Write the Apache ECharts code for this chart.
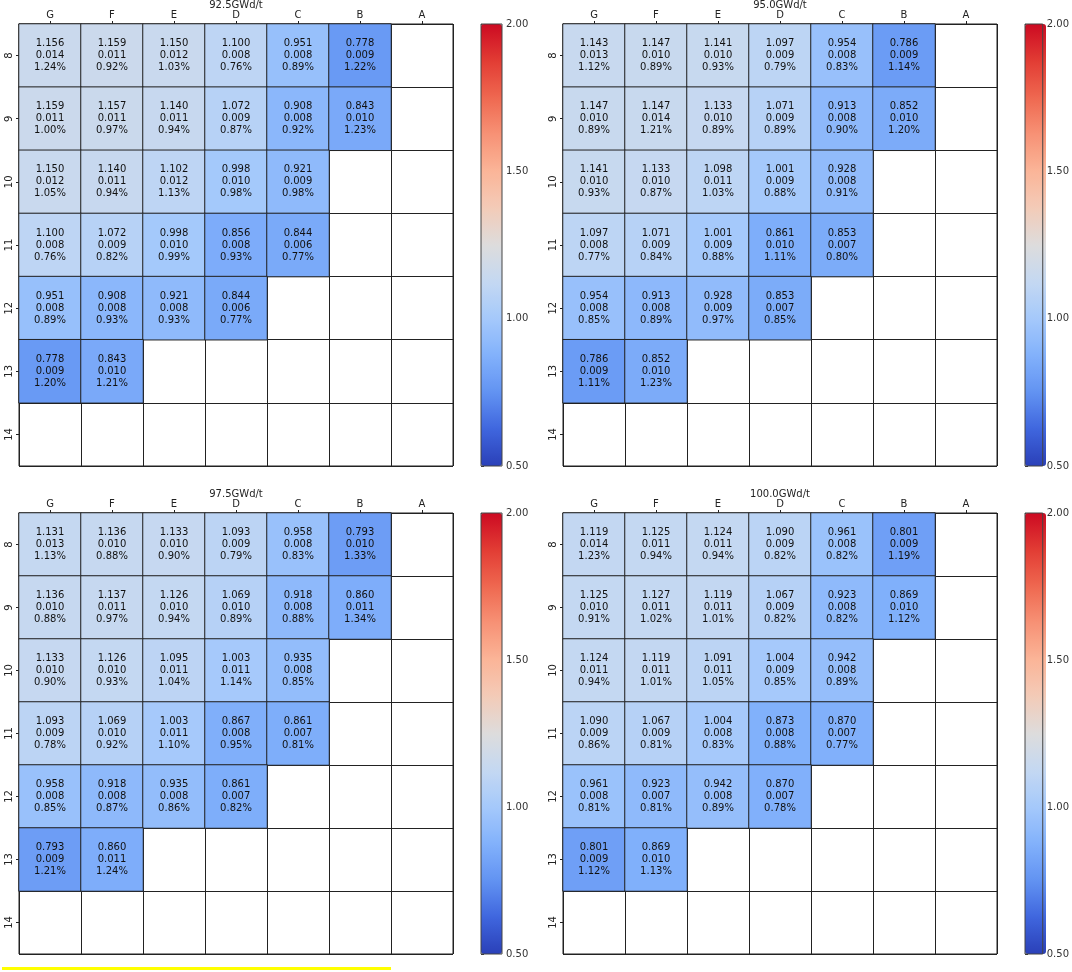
<!DOCTYPE html>
<html>
<head>
<meta charset="utf-8">
<title>Assembly power distribution</title>
<script src="https://cdn.jsdelivr.net/npm/echarts@6/dist/echarts.min.js"></script>
<style>
  html, body { margin: 0; padding: 0; background: #fff; }
  #chart { width: 1072px; height: 972px; }
</style>
</head>
<body>
<div id="chart"></div>
<script>
// column / row labels of the quarter core map
const columns = ['G', 'F', 'E', 'D', 'C', 'B', 'A'];
const rows = ['8', '9', '10', '11', '12', '13', '14'];
// how many filled cells each row has (from column G)
const rowLengths = [6, 6, 5, 5, 4, 2, 0];
const burnups = ['92.5GWd/t', '95.0GWd/t', '97.5GWd/t', '100.0GWd/t'];
const colorbarTicks = [0.5, 1.0, 1.5, 2.0];

// 92.5 GWd/t
const power925 = [1.156, 1.159, 1.150, 1.100, 0.951, 0.778,
                  1.159, 1.157, 1.140, 1.072, 0.908, 0.843,
                  1.150, 1.140, 1.102, 0.998, 0.921,
                  1.100, 1.072, 0.998, 0.856, 0.844,
                  0.951, 0.908, 0.921, 0.844,
                  0.778, 0.843];
const std925 = [0.014, 0.011, 0.012, 0.008, 0.008, 0.009,
                0.011, 0.011, 0.011, 0.009, 0.008, 0.010,
                0.012, 0.011, 0.012, 0.010, 0.009,
                0.008, 0.009, 0.010, 0.008, 0.006,
                0.008, 0.008, 0.008, 0.006,
                0.009, 0.010];
const rel925 = [1.24, 0.92, 1.03, 0.76, 0.89, 1.22,
                1.00, 0.97, 0.94, 0.87, 0.92, 1.23,
                1.05, 0.94, 1.13, 0.98, 0.98,
                0.76, 0.82, 0.99, 0.93, 0.77,
                0.89, 0.93, 0.93, 0.77,
                1.20, 1.21];

// 95.0 GWd/t
const power950 = [1.143, 1.147, 1.141, 1.097, 0.954, 0.786,
                  1.147, 1.147, 1.133, 1.071, 0.913, 0.852,
                  1.141, 1.133, 1.098, 1.001, 0.928,
                  1.097, 1.071, 1.001, 0.861, 0.853,
                  0.954, 0.913, 0.928, 0.853,
                  0.786, 0.852];
const std950 = [0.013, 0.010, 0.010, 0.009, 0.008, 0.009,
                0.010, 0.014, 0.010, 0.009, 0.008, 0.010,
                0.010, 0.010, 0.011, 0.009, 0.008,
                0.008, 0.009, 0.009, 0.010, 0.007,
                0.008, 0.008, 0.009, 0.007,
                0.009, 0.010];
const rel950 = [1.12, 0.89, 0.93, 0.79, 0.83, 1.14,
                0.89, 1.21, 0.89, 0.89, 0.90, 1.20,
                0.93, 0.87, 1.03, 0.88, 0.91,
                0.77, 0.84, 0.88, 1.11, 0.80,
                0.85, 0.89, 0.97, 0.85,
                1.11, 1.23];

// 97.5 GWd/t
const power975 = [1.131, 1.136, 1.133, 1.093, 0.958, 0.793,
                  1.136, 1.137, 1.126, 1.069, 0.918, 0.860,
                  1.133, 1.126, 1.095, 1.003, 0.935,
                  1.093, 1.069, 1.003, 0.867, 0.861,
                  0.958, 0.918, 0.935, 0.861,
                  0.793, 0.860];
const std975 = [0.013, 0.010, 0.010, 0.009, 0.008, 0.010,
                0.010, 0.011, 0.010, 0.010, 0.008, 0.011,
                0.010, 0.010, 0.011, 0.011, 0.008,
                0.009, 0.010, 0.011, 0.008, 0.007,
                0.008, 0.008, 0.008, 0.007,
                0.009, 0.011];
const rel975 = [1.13, 0.88, 0.90, 0.79, 0.83, 1.33,
                0.88, 0.97, 0.94, 0.89, 0.88, 1.34,
                0.90, 0.93, 1.04, 1.14, 0.85,
                0.78, 0.92, 1.10, 0.95, 0.81,
                0.85, 0.87, 0.86, 0.82,
                1.21, 1.24];

// 100.0 GWd/t
const power1000 = [1.119, 1.125, 1.124, 1.090, 0.961, 0.801,
                   1.125, 1.127, 1.119, 1.067, 0.923, 0.869,
                   1.124, 1.119, 1.091, 1.004, 0.942,
                   1.090, 1.067, 1.004, 0.873, 0.870,
                   0.961, 0.923, 0.942, 0.870,
                   0.801, 0.869];
const std1000 = [0.014, 0.011, 0.011, 0.009, 0.008, 0.009,
                 0.010, 0.011, 0.011, 0.009, 0.008, 0.010,
                 0.011, 0.011, 0.011, 0.009, 0.008,
                 0.009, 0.009, 0.008, 0.008, 0.007,
                 0.008, 0.007, 0.008, 0.007,
                 0.009, 0.010];
const rel1000 = [1.23, 0.94, 0.94, 0.82, 0.82, 1.19,
                 0.91, 1.02, 1.01, 0.82, 0.82, 1.12,
                 0.94, 1.01, 1.05, 0.85, 0.89,
                 0.86, 0.81, 0.83, 0.88, 0.77,
                 0.81, 0.81, 0.89, 0.78,
                 1.12, 1.13];

const panels = [
    { power: power925, std: std925, rel: rel925 },
    { power: power950, std: std950, rel: rel950 },
    { power: power975, std: std975, rel: rel975 },
    { power: power1000, std: std1000, rel: rel1000 }
];

// coolwarm-like colour ramp, 0.5 .. 2.0
const COLOR_RAMP = ['#2a40b8', '#3f66de', '#6293f2', '#82b1fb', '#a5c9fb', '#c4d8f2',
    '#dddcdc', '#f3cbb8', '#fbb598', '#f79276', '#ef6850', '#e23c34', '#cc0a22'];

const FONT = 'DejaVu Sans';
const INK = '#222';

// panel boxes: [left, top, width, height], colorbar left
const boxes = [
    { left: 19, top: 24, width: 434, height: 442, cbLeft: 481 },
    { left: 563, top: 24, width: 434, height: 442, cbLeft: 1025 },
    { left: 19, top: 513, width: 434, height: 441, cbLeft: 481 },
    { left: 563, top: 513, width: 434, height: 441, cbLeft: 1025 }
];
const CB_WIDTH = 21;

function buildCells(panel) {
    const cells = [];
    let k = 0;
    rowLengths.forEach((len, r) => {
        for (let c = 0; c < len; c++) {
            cells.push([c, r, panel.power[k], panel.std[k], panel.rel[k]]);
            k++;
        }
    });
    return cells;
}

const grid = [], xAxis = [], yAxis = [], series = [], visualMap = [], title = [];

boxes.forEach((b, i) => {
    // heatmap grid
    grid.push({ left: b.left, top: b.top, width: b.width, height: b.height,
        show: true, borderColor: INK, borderWidth: 1, backgroundColor: '#fff' });
    xAxis.push({
        type: 'category', gridIndex: i, data: columns, position: 'top',
        axisLine: { show: true, lineStyle: { color: INK } },
        axisTick: { show: true, alignWithLabel: true, length: 3, lineStyle: { color: INK } },
        axisLabel: { fontSize: 10, color: INK, fontFamily: FONT, margin: 4 },
        splitLine: { show: true, lineStyle: { color: INK, width: 1 } }
    });
    yAxis.push({
        type: 'category', gridIndex: i, data: rows, inverse: true,
        axisLine: { show: true, lineStyle: { color: INK } },
        axisTick: { show: true, alignWithLabel: true, length: 3, lineStyle: { color: INK } },
        axisLabel: { fontSize: 10, color: INK, fontFamily: FONT, rotate: 90, margin: 5 },
        splitLine: { show: true, lineStyle: { color: INK, width: 1 } }
    });
    series.push({
        type: 'heatmap', xAxisIndex: i, yAxisIndex: i,
        data: buildCells(panels[i]),
        itemStyle: { borderColor: INK, borderWidth: 1 },
        label: {
            show: true, fontSize: 10, lineHeight: 12, color: '#111', fontFamily: FONT,
            formatter: p => p.value[2].toFixed(3) + '\n' + p.value[3].toFixed(3) + '\n' + p.value[4].toFixed(2) + '%'
        },
        emphasis: { disabled: true }
    });
    visualMap.push({
        type: 'continuous', min: 0.5, max: 2, seriesIndex: i, dimension: 2,
        orient: 'vertical', left: b.cbLeft, top: b.top,
        itemWidth: CB_WIDTH, itemHeight: b.height, padding: 0,
        calculable: false, hoverLink: false,
        inRange: { color: COLOR_RAMP }
    });
    title.push({
        text: burnups[i], left: b.left + b.width / 2, top: b.top - 24, textAlign: 'center',
        padding: 0,
        textStyle: { fontSize: 10, fontWeight: 'normal', color: INK, fontFamily: FONT }
    });
});

// colorbar axes
boxes.forEach((b, i) => {
    const g = grid.length;
    grid.push({ left: b.cbLeft, top: b.top, width: CB_WIDTH, height: b.height,
        show: true, borderColor: '#444', borderWidth: 1, backgroundColor: 'transparent', z: 10 });
    xAxis.push({ type: 'value', gridIndex: g, show: false, min: 0, max: 1 });
    yAxis.push({
        type: 'value', gridIndex: g, position: 'right',
        min: colorbarTicks[0], max: colorbarTicks[colorbarTicks.length - 1], interval: 0.5,
        axisLine: { show: false },
        axisTick: { show: true, length: 3, lineStyle: { color: '#333' } },
        axisLabel: { fontSize: 10, color: '#333', fontFamily: FONT, margin: 4,
            formatter: v => v.toFixed(2) },
        splitLine: { show: false }
    });
});

const chart = echarts.init(document.getElementById('chart'));
chart.setOption({
    animation: false,
    backgroundColor: '#fff',
    title: title,
    grid: grid,
    xAxis: xAxis,
    yAxis: yAxis,
    visualMap: visualMap,
    series: series,
    graphic: [{
        type: 'rect', shape: { x: 2, y: 967, width: 389, height: 3 },
        style: { fill: '#ffff00' }
    }]
});

window.addEventListener('resize', () => chart.resize());
</script>
</body>
</html>
